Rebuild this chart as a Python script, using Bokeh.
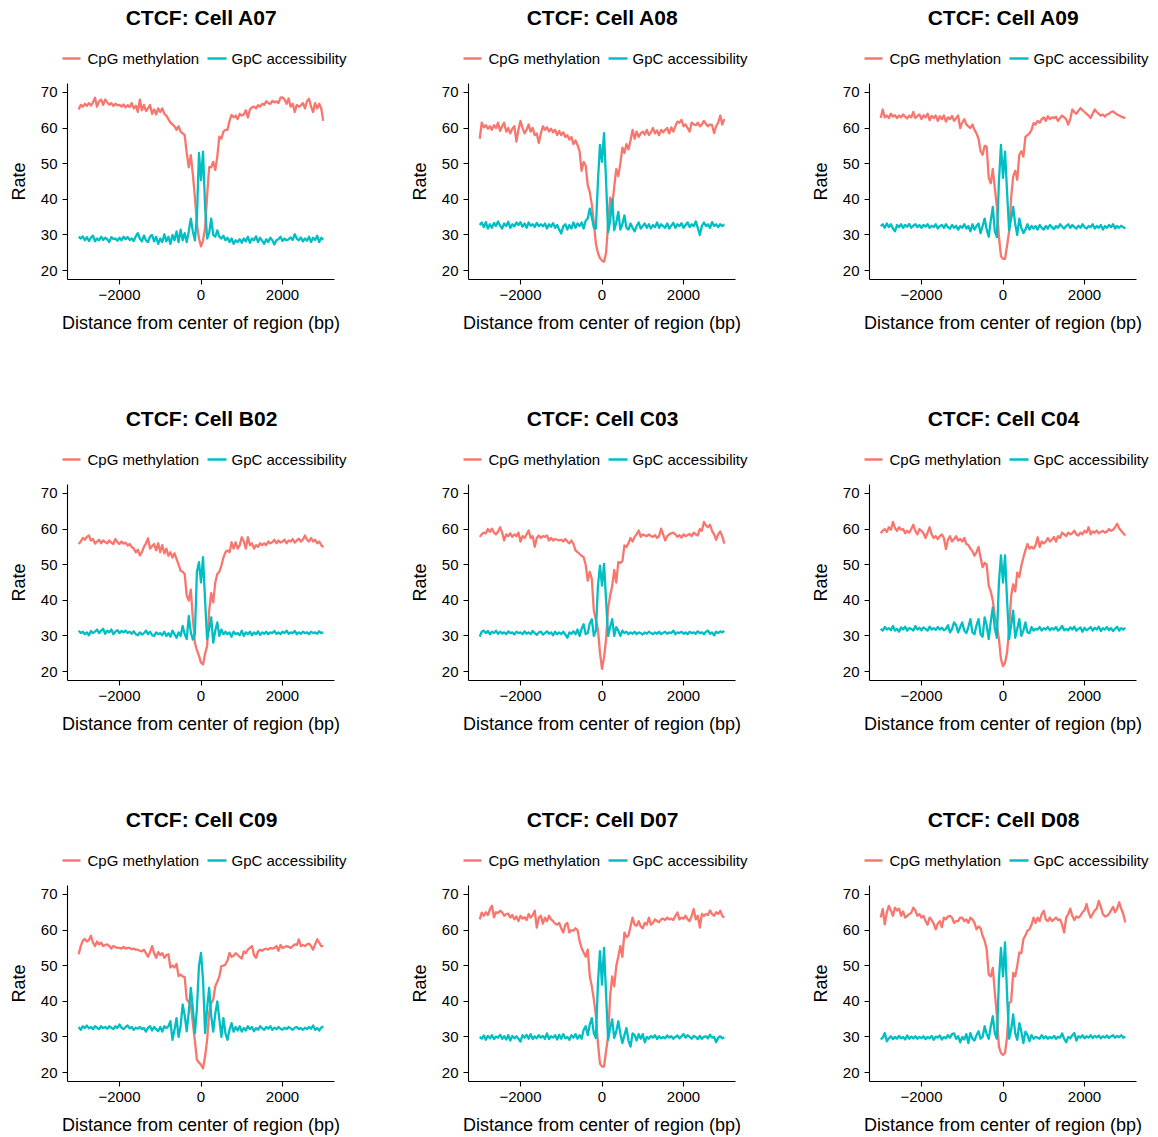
from bokeh.plotting import figure
from bokeh.layouts import row, column
from bokeh.models import Range1d, FixedTicker
from bokeh.core.properties import value
from bokeh.embed import file_html
from bokeh.resources import INLINE

FONT = "Liberation Sans"
CPG_COLOR = "#F8766D"
GPC_COLOR = "#00BFC4"

# ---------------- data ----------------
positions = list(range(-3000, 3001, 50))
x_ticks = [-2000, 0, 2000]
x_tick_labels = ["\u22122000", "0", "2000"]
y_ticks = [20, 30, 40, 50, 60, 70]
series_names = ["CpG methylation", "GpC accessibility"]
cells = ["A07", "A08", "A09", "B02", "C03", "C04", "C09", "D07", "D08"]

cpg_A07 = [65.2, 66.5, 66.0, 66.8, 66.2, 67.0, 66.3, 67.2, 68.5, 66.0,
           67.5, 68.0, 66.5, 68.0, 67.2, 66.5, 67.0, 66.2, 66.8, 66.4,
           66.5, 66.0, 66.6, 65.8, 66.4, 65.9, 67.0, 65.5, 66.3, 64.5,
           68.0, 65.0, 66.5, 64.8, 65.5, 66.5, 64.0, 65.2, 63.8, 65.5,
           64.5, 65.5, 64.0, 63.5, 62.5, 61.5, 61.0, 60.5, 59.5, 60.5,
           59.0, 58.5, 58.0, 53.0, 49.0, 52.4, 47.0, 40.7, 33.0, 29.0,
           26.8,
           28.5, 32.0, 41.0, 49.0, 49.0, 50.5, 48.2, 52.0, 57.6, 57.0,
           59.0, 59.5, 59.5, 62.0, 63.7, 63.0, 63.5, 62.5, 64.0, 63.5,
           63.8, 65.0, 63.0, 65.2, 65.8, 66.0, 65.5, 66.4, 66.0, 66.8,
           66.5, 67.5, 67.0, 66.8, 67.6, 67.2, 67.5, 67.0, 68.5, 68.6,
           68.0, 66.8, 68.3, 66.0, 66.8, 64.5, 66.5, 66.0, 66.3, 67.0,
           65.5, 67.5, 68.2, 66.0, 64.5, 67.0, 65.5, 66.8, 65.5, 62.0]
gpc_A07 = [29.5, 29.0, 29.6, 28.5, 29.4, 28.3, 29.2, 29.8, 28.2, 29.0,
           28.5, 29.5, 28.6, 29.2, 28.8, 28.0, 29.4, 28.9, 29.0, 28.4,
           29.2, 28.5, 29.5, 28.8, 29.4, 28.6, 29.0, 28.3, 29.6, 30.5,
           29.0, 28.2, 29.8, 28.5, 28.0, 29.5, 30.0, 28.2, 29.5, 27.5,
           29.0, 28.0, 30.2, 28.2, 29.5, 27.5, 30.0, 28.5, 31.0, 28.0,
           31.5, 28.5, 30.5, 28.0, 31.0, 34.6, 31.0, 28.5, 35.0, 53.0,
           45.4,
           53.4, 38.0, 29.0, 30.5, 34.6, 30.0, 29.5, 31.3, 29.5, 29.0,
           29.8, 28.5, 29.2, 28.0, 29.0, 27.5, 28.5, 28.0, 28.8, 27.8,
           29.0, 28.2, 29.5, 27.8, 29.0, 28.5, 29.6, 28.0, 29.2, 28.4,
           27.5, 28.8, 28.0, 29.2, 28.5, 27.3, 28.5, 28.8, 29.5, 28.3,
           29.0, 28.5, 28.8, 29.3, 28.6, 30.2, 29.0, 28.5, 29.3, 28.2,
           29.0, 28.4, 29.5, 28.0, 29.2, 28.6, 29.8, 28.0, 29.2, 28.7]

cpg_A08 = [57.0, 61.5, 60.2, 60.8, 59.8, 60.5, 59.5, 60.8, 60.0, 61.5,
           59.2, 60.5, 61.5, 59.0, 60.0, 58.5, 59.8, 60.5, 56.2, 59.5,
           62.0, 60.0, 58.5, 59.5, 61.0, 59.0, 60.0, 58.0, 58.5, 55.8,
           58.5, 60.5, 59.5, 60.2, 59.0, 59.8, 58.8, 59.5, 58.0, 59.2,
           58.0, 58.8, 57.5, 58.0, 56.8, 57.5, 55.5, 56.5, 55.2, 53.5,
           48.0, 50.5, 49.5, 44.0, 42.0, 38.5, 33.5, 27.5, 25.0, 23.5,
           22.8,
           22.5, 25.0, 33.0, 40.5, 38.0, 43.5, 48.5, 46.5, 50.0, 54.5,
           53.0, 55.5, 54.0, 56.5, 59.5, 57.0, 59.0, 57.5, 58.5, 59.0,
           58.2, 59.5, 58.0, 58.8, 60.0, 58.5, 59.3, 58.0, 59.5, 58.8,
           59.5, 60.0, 58.5, 60.2, 59.0, 60.5, 61.8, 61.5, 62.3, 60.5,
           61.0, 60.0, 59.0, 61.5, 61.0, 60.8, 61.5, 60.5, 61.0, 62.0,
           61.2, 60.5, 61.0, 60.8, 58.6, 60.5, 61.5, 63.5, 61.0, 62.5]
gpc_A08 = [32.8, 33.5, 32.2, 33.6, 31.8, 33.0, 32.0, 33.4, 32.5, 33.8,
           32.6, 31.8, 33.2, 32.5, 33.7, 32.0, 33.0, 32.4, 33.5, 32.8,
           33.6, 32.3, 33.2, 32.0, 33.5, 32.6, 33.0, 32.2, 33.4, 32.5,
           33.0, 32.4, 33.2, 31.8, 33.0, 32.3, 33.3, 32.0, 32.8, 31.5,
           30.4, 32.5, 33.0, 31.5, 32.8, 31.8, 33.5, 32.0, 33.2, 32.5,
           33.5, 31.8, 34.0, 34.6, 37.4, 35.0, 32.0, 31.8, 45.0, 55.3,
           50.5,
           58.6, 45.0, 30.8, 34.0, 40.0, 31.3, 33.5, 36.5, 31.5, 33.0,
           35.5, 32.0, 31.5, 33.2, 32.0, 31.0, 32.5, 33.5, 31.8, 32.5,
           33.2, 32.0, 33.0, 31.8, 32.8, 32.2, 33.5, 32.0, 33.0, 32.5,
           32.0, 33.2, 31.8, 32.6, 33.4, 32.0, 33.0, 32.5, 33.3, 32.0,
           32.8, 33.5, 32.2, 33.0, 32.5, 33.8, 32.0, 30.0, 32.5, 33.5,
           32.5, 33.0, 32.0, 33.6, 32.5, 33.0, 32.2, 33.0, 32.5, 33.0]

cpg_A09 = [62.8, 65.2, 63.0, 63.5, 62.8, 64.0, 63.2, 63.6, 62.8, 63.5,
           63.0, 63.8, 63.2, 62.7, 63.5, 63.0, 64.5, 62.8, 63.4, 63.8,
           62.5, 63.6, 63.0, 64.0, 62.2, 63.4, 62.8, 63.5, 62.0, 63.3,
           62.5, 63.5, 61.8, 63.0, 62.5, 63.4, 62.0, 62.8, 63.5, 60.0,
           61.5, 62.5, 61.0, 60.5, 60.0, 61.0, 59.5, 58.5, 57.0, 53.5,
           52.5, 55.0, 54.8, 46.0, 44.5, 48.5, 43.0, 38.0, 29.5, 24.0,
           23.3,
           23.3, 27.0, 31.0, 40.5, 46.5, 48.0, 45.5, 52.5, 53.5, 52.0,
           57.5, 58.0, 58.5, 59.5, 61.4, 61.0, 62.0, 61.5, 62.5, 63.0,
           62.0, 63.3, 62.5, 63.0, 62.8, 63.2, 62.0, 62.8, 63.5, 63.0,
           62.5, 61.0, 62.5, 65.2, 64.5, 64.0, 64.8, 65.6, 65.0, 64.5,
           64.0, 63.5, 62.8, 64.0, 65.2, 64.5, 64.0, 63.5, 63.8, 63.2,
           63.8, 64.0, 64.5, 64.7, 64.2, 63.8, 63.5, 63.2, 63.0, 62.8]
gpc_A09 = [32.5, 33.0, 32.0, 33.2, 32.2, 33.0, 31.8, 31.0, 32.8, 32.2,
           33.0, 32.0, 32.8, 32.3, 33.1, 32.0, 32.6, 33.0, 32.2, 32.8,
           32.0, 32.8, 32.3, 33.0, 32.0, 32.6, 32.2, 33.0, 31.8, 32.5,
           32.8, 32.0, 33.0, 32.2, 31.8, 32.8, 32.0, 32.6, 31.5, 32.5,
           32.0, 33.0, 31.8, 32.5, 31.0, 33.0, 31.5, 32.5, 33.2, 30.5,
           32.5, 34.6, 31.5, 29.5, 34.0, 37.9, 31.0, 29.4, 45.0, 55.3,
           46.0,
           53.4, 42.0, 31.3, 34.5, 37.9, 33.0, 30.0, 34.6, 32.0, 30.5,
           31.5, 33.0, 31.5, 32.5, 31.8, 32.5, 31.5, 32.8, 32.0, 31.5,
           32.5, 31.8, 32.8, 32.2, 31.6, 32.5, 32.0, 33.0, 32.3, 31.8,
           32.5, 33.0, 32.0, 32.8, 32.2, 31.8, 32.6, 32.0, 33.0, 32.2,
           31.8, 32.5, 32.2, 33.0, 31.8, 32.5, 32.0, 32.8, 31.5, 32.5,
           32.0, 32.8, 32.2, 33.0, 31.8, 32.5, 32.0, 32.6, 32.2, 31.8]

cpg_B02 = [55.8, 56.5, 57.5, 57.0, 57.8, 58.2, 56.8, 57.2, 55.9, 56.5,
           57.0, 56.0, 56.8, 56.3, 56.0, 56.8, 56.2, 55.8, 57.2, 56.3,
           55.8, 56.5, 55.9, 56.2, 55.4, 55.8, 55.0, 54.5, 53.5, 54.2,
           52.6, 53.5, 55.0, 56.0, 57.4, 54.5, 55.2, 55.8, 54.0, 56.0,
           53.5, 55.5, 53.2, 54.5, 52.5, 53.5, 52.0, 53.2, 51.6, 50.0,
           48.3, 48.0, 47.4, 41.3, 39.9, 43.0, 35.0, 28.1, 26.0, 24.4,
           22.5,
           22.0, 25.0, 27.2, 37.0, 42.0, 39.4, 45.0, 47.4, 48.0, 49.7,
           52.0, 53.5, 54.0, 53.5, 56.3, 54.5, 56.3, 54.5, 55.5, 57.7,
           56.5, 54.5, 57.7, 55.5, 56.0, 54.5, 55.5, 55.0, 56.0, 55.5,
           56.0, 55.5, 56.5, 56.0, 56.3, 57.0, 56.0, 56.8, 56.2, 56.5,
           57.0, 56.0, 56.8, 56.5, 57.2, 56.2, 56.8, 57.3, 56.5, 57.0,
           58.2, 57.0, 56.5, 57.5, 56.5, 57.0, 56.0, 56.5, 55.5, 54.9]
gpc_B02 = [31.5, 30.8, 31.2, 30.5, 31.0, 30.2, 31.4, 30.8, 31.2, 31.8,
           30.8, 31.5, 32.0, 30.6, 31.5, 31.0, 31.8, 30.5, 31.2, 31.6,
           30.8, 31.4, 31.0, 31.5, 30.8, 31.2, 30.6, 31.3, 30.5, 30.2,
           31.0, 30.4, 30.8, 31.5, 30.5, 31.2, 30.2, 30.0, 31.0, 30.5,
           30.8, 30.2, 31.2, 30.0, 30.8, 29.8, 31.5, 30.5, 29.5, 31.0,
           30.0, 32.8, 30.5, 29.1, 35.6, 31.0, 29.0, 30.5, 48.0, 50.7,
           45.0,
           52.1, 40.0, 29.1, 32.0, 35.2, 28.1, 31.5, 33.8, 30.0, 31.8,
           30.5, 31.2, 30.5, 31.0, 29.8, 31.2, 30.5, 30.8, 30.2, 31.5,
           30.0, 31.0, 30.5, 31.2, 30.2, 31.0, 30.5, 31.3, 30.3, 31.0,
           30.6, 31.2, 30.5, 31.0, 30.8, 31.4, 30.6, 31.0, 30.5, 31.2,
           30.8, 31.5, 30.6, 31.0, 30.8, 31.4, 30.5, 31.0, 30.6, 31.2,
           30.8, 31.0, 30.5, 31.2, 30.8, 31.0, 30.6, 31.3, 30.8, 31.0]

cpg_C03 = [57.8, 58.5, 59.0, 58.8, 60.0, 59.2, 60.1, 59.0, 58.5, 59.3,
           60.5, 59.0, 56.8, 58.5, 58.0, 58.8, 57.8, 58.5, 58.0, 59.0,
           56.5, 58.0, 57.5, 58.5, 59.6, 57.5, 58.0, 55.0, 57.5, 58.2,
           57.5, 58.0, 57.8, 58.2, 56.8, 57.5, 56.8, 57.2, 57.0, 56.8,
           57.0, 56.5, 57.2, 56.5, 56.0, 56.8, 55.8, 54.0, 53.5, 53.0,
           52.5, 52.1, 50.0, 45.5, 48.0, 46.0, 37.1, 34.5, 31.9, 25.3,
           20.8,
           24.0, 29.0, 38.0, 41.3, 44.0, 48.5, 45.0, 50.7, 50.5, 51.0,
           55.4, 55.0, 56.0, 57.5, 56.5, 57.8, 58.5, 59.6, 57.8, 58.5,
           58.2, 58.0, 58.5, 58.0, 57.8, 58.3, 57.5, 58.0, 60.1, 58.5,
           56.8, 58.0, 58.5, 58.8, 59.0, 58.5, 57.8, 58.3, 57.6, 58.5,
           58.0, 58.3, 58.6, 58.0, 59.0, 58.5, 58.2, 60.0, 59.5, 62.0,
           61.0, 60.5, 61.2, 59.5, 58.5, 57.0, 58.5, 59.3, 58.0, 55.9]
gpc_C03 = [29.8, 31.2, 31.5, 30.8, 31.4, 30.5, 31.2, 30.8, 31.5, 30.6,
           31.2, 30.7, 31.0, 30.5, 31.3, 30.8, 31.0, 30.4, 31.2, 30.8,
           31.0, 30.5, 31.3, 30.6, 31.0, 30.5, 31.4, 30.8, 30.3, 31.0,
           31.2, 30.4, 30.8, 31.3, 30.6, 31.0, 30.2, 31.2, 30.5, 31.0,
           30.5, 31.2, 30.4, 29.5, 31.0, 30.6, 31.3, 30.5, 31.8, 30.0,
           32.0, 33.3, 30.5, 30.8, 33.5, 34.7, 30.0, 31.5, 44.0, 49.7,
           44.1,
           50.2, 40.0, 30.0, 32.5, 34.7, 30.0, 32.5, 31.5, 30.0, 31.5,
           30.8, 31.2, 30.5, 31.0, 30.6, 31.2, 30.5, 31.0, 30.8, 30.4,
           31.0, 30.6, 31.2, 30.8, 30.5, 31.0, 30.6, 31.2, 30.5, 30.9,
           31.2, 30.6, 31.0, 30.8, 31.5, 30.5, 31.0, 30.8, 31.2, 30.6,
           31.0, 30.5, 31.2, 30.8, 31.0, 30.6, 31.3, 30.8, 31.0, 30.5,
           31.2, 31.5, 30.6, 31.0, 30.2, 31.2, 30.8, 31.3, 31.0, 31.4]

cpg_C04 = [58.8, 59.5, 60.0, 59.2, 60.5, 59.8, 62.0, 60.3, 59.5, 60.5,
           59.8, 60.0, 58.8, 59.5, 59.0, 60.0, 61.2, 59.5, 58.5, 60.0,
           59.5, 58.8, 57.5, 59.0, 60.5, 58.5, 57.5, 58.0, 57.2, 58.0,
           58.5, 57.5, 54.4, 57.0, 58.0, 56.5, 57.2, 58.0, 56.8, 57.2,
           56.5, 57.5, 55.8, 55.5, 54.5, 53.8, 52.5, 53.5, 55.0, 52.0,
           49.3, 50.5, 50.0, 44.1, 42.5, 39.9, 35.5, 33.0, 29.1, 23.5,
           21.5,
           22.5, 25.3, 32.0, 41.3, 44.5, 42.5, 47.8, 46.5, 49.7, 52.0,
           54.0, 55.8, 54.5, 55.0, 54.5, 55.5, 57.7, 55.0, 56.5, 56.0,
           56.5, 57.5, 56.5, 57.0, 57.8, 56.5, 58.0, 57.5, 59.0, 58.5,
           58.0, 59.0, 58.5, 58.8, 59.5, 58.5, 58.2, 59.0, 58.5, 59.5,
           59.0, 60.5, 58.5, 59.3, 59.0, 59.6, 58.8, 59.2, 59.5, 59.0,
           59.3, 60.0, 59.5, 59.8, 60.5, 61.5, 60.2, 59.5, 58.8, 58.2]
gpc_C04 = [32.0, 31.5, 32.5, 31.8, 32.2, 31.6, 32.8, 31.5, 32.0, 31.2,
           32.4, 31.8, 32.6, 31.5, 32.2, 32.0, 31.5, 32.8, 31.8, 32.3,
           31.6, 32.4, 32.0, 31.5, 32.6, 31.8, 32.2, 31.7, 32.5, 31.8,
           32.3, 31.6, 32.0, 33.0, 31.0, 32.0, 33.8, 33.0, 31.0, 32.5,
           33.8, 31.5, 30.8, 32.5, 34.7, 31.0, 30.5, 33.0, 34.7, 30.5,
           29.8, 35.2, 33.0, 29.1, 34.0, 38.0, 32.0, 29.5, 45.0, 52.6,
           45.0,
           52.6, 40.0, 29.1, 33.0, 37.1, 29.5, 32.0, 34.7, 30.0, 31.5,
           33.8, 31.0, 30.8, 32.5, 31.5, 32.0, 31.8, 32.5, 31.5, 32.2,
           31.8, 32.5, 31.6, 32.2, 31.8, 32.5, 31.5, 32.0, 32.8, 31.6,
           32.0, 31.6, 32.4, 31.8, 32.6, 31.5, 32.0, 32.4, 31.2, 32.3,
           31.6, 32.0, 32.5, 31.5, 32.3, 31.8, 32.6, 31.4, 32.2, 31.8,
           32.5, 31.6, 32.2, 31.4, 32.0, 32.6, 31.5, 32.2, 31.8, 32.3]

cpg_C09 = [53.2, 55.5, 57.0, 57.5, 56.8, 57.2, 58.4, 56.5, 55.5, 56.8,
           56.0, 56.5, 55.5, 55.8, 56.0, 55.5, 54.8, 55.5, 55.2, 55.0,
           55.0, 54.8, 55.3, 54.8, 55.0, 55.0, 54.6, 54.8, 54.5, 54.5,
           54.2, 54.0, 54.5, 53.5, 52.5, 53.8, 55.5, 53.5, 52.2, 53.8,
           53.0, 53.5, 52.2, 53.0, 53.2, 49.5, 50.0, 49.5, 50.5, 47.1,
           47.5, 47.0, 46.8, 40.5, 39.8, 39.1, 33.9, 29.0, 23.6, 22.8,
           22.2,
           21.2, 24.5, 29.2, 36.7, 39.5, 40.5, 44.2, 45.5, 47.0, 49.9,
           50.0, 50.3, 51.5, 53.6, 52.5, 52.8, 53.5, 53.0, 52.5, 52.0,
           54.0, 53.5, 54.5, 55.0, 55.5, 53.0, 52.2, 54.0, 54.5, 54.2,
           54.6, 54.8, 54.5, 55.0, 54.8, 55.0, 55.5, 54.2, 55.8, 55.0,
           55.2, 55.5, 55.3, 55.0, 55.5, 56.0, 55.8, 57.4, 55.5, 55.8,
           55.5, 56.0, 56.2, 55.5, 54.5, 56.0, 57.4, 56.5, 55.5, 55.5]
gpc_C09 = [32.8, 32.0, 33.0, 32.5, 33.2, 32.4, 32.8, 32.2, 33.0, 32.6,
           32.2, 33.0, 32.5, 32.8, 32.3, 33.0, 32.6, 32.2, 33.0, 32.5,
           33.5, 32.6, 32.2, 32.8, 33.2, 32.4, 32.8, 32.0, 32.6, 32.3,
           32.8, 32.2, 32.5, 31.5, 32.6, 33.0, 31.8, 32.8, 32.2, 31.6,
           32.8, 31.5, 33.0, 32.5, 33.0, 34.4, 29.2, 32.0, 35.3, 30.0,
           33.0, 39.1, 36.0, 31.6, 37.0, 43.8, 38.0, 31.1, 38.0, 50.0,
           53.6,
           46.0, 31.1, 38.0, 43.8, 36.0, 31.5, 36.5, 40.0, 35.0, 30.0,
           35.3, 31.0, 29.2, 32.0, 33.9, 31.5, 32.8, 31.8, 33.0, 31.5,
           32.5, 31.8, 33.0, 32.2, 32.8, 31.6, 32.5, 32.0, 33.0, 32.4,
           32.0, 32.8, 32.3, 33.0, 32.0, 32.6, 32.2, 32.8, 32.3, 32.0,
           32.6, 32.2, 32.8, 32.4, 32.0, 32.6, 32.8, 32.2, 32.5, 32.0,
           32.6, 32.2, 32.8, 32.3, 33.2, 32.0, 32.5, 31.8, 32.6, 33.0]

cpg_D07 = [63.0, 64.9, 64.0, 65.0, 64.2, 65.8, 66.8, 63.6, 65.0, 64.8,
           65.4, 65.0, 64.0, 64.5, 64.6, 63.5, 64.2, 63.0, 63.8, 62.5,
           64.0, 63.2, 63.6, 62.8, 64.5, 63.5, 64.2, 65.4, 60.7, 63.5,
           64.0, 61.8, 63.5, 62.5, 64.0, 63.0, 62.5, 61.8, 61.5, 62.0,
           60.5, 59.3, 61.5, 62.0, 59.3, 60.0, 59.8, 60.5, 60.0, 56.9,
           55.0, 53.7, 52.5, 54.5, 47.1, 44.2, 40.5, 36.0, 28.3, 22.5,
           21.7,
           21.7, 26.0, 30.2, 41.4, 47.0, 44.2, 49.9, 52.5, 55.5, 52.5,
           59.3, 58.0, 58.5, 61.0, 63.5, 61.5, 61.2, 62.5, 61.0, 60.5,
           62.0, 61.5, 63.5, 61.5, 62.0, 63.0, 62.5, 62.2, 63.0, 63.2,
           62.8, 63.5, 63.0, 63.2, 62.8, 64.0, 64.9, 63.0, 63.5, 63.2,
           64.0, 63.0, 62.5, 64.0, 65.9, 63.0, 64.0, 60.7, 64.5, 64.0,
           64.5, 64.2, 65.5, 64.5, 64.0, 65.0, 64.5, 65.4, 64.0, 63.5]
gpc_D07 = [30.0, 29.5, 30.4, 29.2, 30.3, 29.6, 30.5, 29.4, 30.1, 29.8,
           30.6, 29.5, 30.2, 29.3, 30.5, 29.0, 30.3, 29.6, 30.2, 29.5,
           28.7, 30.5, 29.8, 30.6, 29.5, 30.8, 29.4, 30.2, 29.6, 30.5,
           29.8, 30.3, 29.5, 31.0, 29.4, 30.2, 29.8, 30.5, 29.3, 30.6,
           29.5, 30.8, 29.6, 30.0, 29.2, 30.5, 29.8, 30.8, 29.5, 30.5,
           29.5, 32.0, 33.0, 30.5, 33.5, 35.3, 31.0, 29.7, 45.0, 54.1,
           44.7,
           55.0, 42.0, 29.2, 32.5, 34.9, 29.7, 31.5, 34.4, 31.0, 28.3,
           30.5, 32.5, 29.0, 27.3, 31.0, 30.5, 29.0, 30.8, 29.5, 30.8,
           28.5, 30.0, 29.5, 30.3, 29.8, 30.5, 29.4, 30.2, 29.6, 30.0,
           29.6, 30.4, 29.8, 30.2, 29.5, 30.0, 30.4, 29.6, 30.2, 30.8,
           29.8, 30.5, 30.0, 29.5, 30.3, 30.0, 29.4, 30.3, 29.5, 30.0,
           30.2, 29.6, 30.6, 29.8, 30.0, 28.5, 29.8, 30.2, 29.6, 29.9]

cpg_D08 = [63.5, 65.9, 61.6, 65.0, 66.8, 65.5, 64.0, 66.3, 65.5, 66.0,
           64.0, 65.2, 63.5, 64.0, 64.5, 64.8, 66.3, 65.5, 64.0, 64.5,
           63.5, 64.0, 62.5, 61.5, 63.5, 62.8, 61.8, 60.2, 61.8, 62.5,
           60.8, 63.5, 63.0, 63.8, 64.0, 63.5, 62.0, 62.5, 62.5, 63.5,
           63.5, 62.5, 63.0, 62.0, 63.5, 63.0, 62.0, 60.2, 61.0, 60.5,
           58.4, 57.0, 54.6, 47.5, 47.0, 49.4, 42.4, 36.0, 27.3, 25.5,
           25.0,
           25.5, 30.0, 39.5, 40.0, 48.0, 47.0, 50.0, 53.7, 53.5, 57.4,
           58.5, 59.8, 60.2, 61.5, 63.5, 62.0, 63.5, 62.5, 64.5, 65.4,
           63.0, 62.5, 63.5, 62.5, 63.0, 63.5, 62.8, 63.0, 61.5, 59.3,
           63.5, 64.5, 66.0, 64.0, 62.8, 63.8, 63.5, 64.0, 65.0, 65.5,
           67.3, 65.0, 63.5, 64.5, 65.5, 66.0, 68.2, 66.5, 64.5, 63.8,
           64.0, 64.5, 65.5, 66.5, 65.0, 66.0, 67.8, 66.0, 64.5, 62.1]
gpc_D08 = [29.3, 29.8, 31.1, 28.8, 29.6, 30.2, 29.4, 30.0, 29.5, 30.3,
           29.6, 30.0, 29.3, 30.4, 29.5, 30.1, 29.6, 30.2, 29.5, 30.0,
           29.7, 30.2, 29.4, 30.0, 29.6, 30.3, 29.2, 30.1, 29.8, 30.4,
           29.3, 30.0, 29.6, 30.5, 29.8, 30.8, 31.0, 29.5, 30.2, 28.5,
           30.0, 29.3, 30.8, 28.3, 31.1, 29.5, 29.0, 30.5, 31.6, 29.5,
           30.0, 33.0, 30.8, 29.5, 33.0, 35.8, 31.0, 29.5, 46.0, 55.0,
           47.0,
           56.5, 42.0, 29.5, 32.0, 36.3, 31.0, 29.2, 33.9, 31.5, 28.3,
           31.5, 30.5, 28.8, 30.5, 29.5, 30.0, 29.8, 29.5, 30.5, 29.6,
           30.2, 29.5, 30.0, 29.6, 30.3, 29.5, 30.0, 29.8, 31.0, 29.5,
           28.5, 30.0, 29.6, 30.5, 31.1, 29.0, 30.2, 29.8, 30.5, 29.6,
           30.2, 29.8, 30.5, 29.7, 30.3, 29.9, 30.4, 29.6, 30.2, 29.8,
           30.4, 29.7, 30.2, 30.5, 29.8, 30.3, 29.9, 30.5, 29.8, 30.0]

series = {
    "A07": (cpg_A07, gpc_A07), "A08": (cpg_A08, gpc_A08), "A09": (cpg_A09, gpc_A09),
    "B02": (cpg_B02, gpc_B02), "C03": (cpg_C03, gpc_C03), "C04": (cpg_C04, gpc_C04),
    "C09": (cpg_C09, gpc_C09), "D07": (cpg_D07, gpc_D07), "D08": (cpg_D08, gpc_D08),
}

# ---------------- layout constants (pixels inside one panel) ----------------
COL_W = [401, 401, 356]
ROW_H = [401, 401, 335]
AX_TOP = 83            # top edge of the data area
AX_LEFT = 67           # left edge of the data area
AX_W = 267
AX_H = 196
X_LO, X_HI = -3275, 3275   # data limits of the drawn axes
Y_LO, Y_HI = 17.5, 72.5
KX = (X_HI - X_LO) / AX_W
KY = (Y_HI - Y_LO) / AX_H

TITLE_PY = 16.5       # title text anchor row
KEY_PY = 58           # legend key row
LEGEND_TEXT_PY = 58.2  # legend text anchor row


def px_to_x(px):
    return X_LO + (px - AX_LEFT) * KX


def py_to_y(py):
    return Y_HI - (py - AX_TOP) * KY


def make_plot(cell, w, rh):
    cpg, gpc = series[cell]
    p = figure(frame_width=w, frame_height=rh,
               x_range=Range1d(px_to_x(0), px_to_x(w)),
               y_range=Range1d(py_to_y(rh), py_to_y(0)),
               toolbar_location=None, output_backend="svg",
               min_border=0, outline_line_color=None)
    p.grid.visible = False
    p.line(positions, cpg, line_color=CPG_COLOR, line_width=2.3, line_join="round")
    p.line(positions, gpc, line_color=GPC_COLOR, line_width=2.3, line_join="round")

    # title
    p.text(x=[px_to_x(201)], y=[py_to_y(TITLE_PY)], text=["CTCF: Cell " + cell],
           text_font=value(FONT), text_font_size="21px", text_font_style="bold",
           text_color="black", text_align="center", text_baseline="alphabetic")
    # legend: keys + labels
    key_y = py_to_y(KEY_PY)
    p.segment(x0=[px_to_x(62), px_to_x(207)], y0=[key_y, key_y],
              x1=[px_to_x(80), px_to_x(226)], y1=[key_y, key_y],
              line_color=[CPG_COLOR, GPC_COLOR], line_width=2.3)
    p.text(x=[px_to_x(87), px_to_x(231)], y=[py_to_y(LEGEND_TEXT_PY)] * 2, text=series_names,
           text_font=value(FONT), text_font_size="15px", text_color="black",
           text_align="left", text_baseline="alphabetic")

    # axes drawn at the data-area edges
    p.xaxis.fixed_location = Y_LO
    p.xaxis.bounds = (X_LO, X_HI)
    p.yaxis.fixed_location = X_LO
    p.yaxis.bounds = (Y_LO, Y_HI)
    p.xaxis.ticker = FixedTicker(ticks=x_ticks)
    p.xaxis.major_label_overrides = dict(zip(x_ticks, x_tick_labels))
    p.yaxis.ticker = FixedTicker(ticks=y_ticks)
    p.xaxis.axis_label = "Distance from center of region (bp)"
    p.yaxis.axis_label = "Rate"
    for ax in p.axis:
        ax.axis_line_color = "black"
        ax.axis_line_width = 1.1
        ax.major_tick_line_color = "black"
        ax.major_tick_line_width = 1.1
        ax.major_tick_out = 5
        ax.major_tick_in = 0
        ax.minor_tick_out = 0
        ax.minor_tick_in = 0
        ax.major_label_text_font = FONT
        ax.major_label_text_font_size = "15px"
        ax.major_label_text_color = "black"
        ax.major_label_standoff = 5
        ax.axis_label_text_font = FONT
        ax.axis_label_text_font_size = "18px"
        ax.axis_label_text_font_style = "normal"
        ax.axis_label_text_color = "black"
    p.xaxis.axis_label_standoff = 10
    p.yaxis.axis_label_standoff = 9
    return p


rows = []
for r in range(3):
    cols = [make_plot(cells[r * 3 + c], COL_W[c], ROW_H[r]) for c in range(3)]
    rows.append(row(*cols, spacing=0))
layout = column(*rows, spacing=0)

open("out.html", "w").write(file_html(layout, INLINE))
